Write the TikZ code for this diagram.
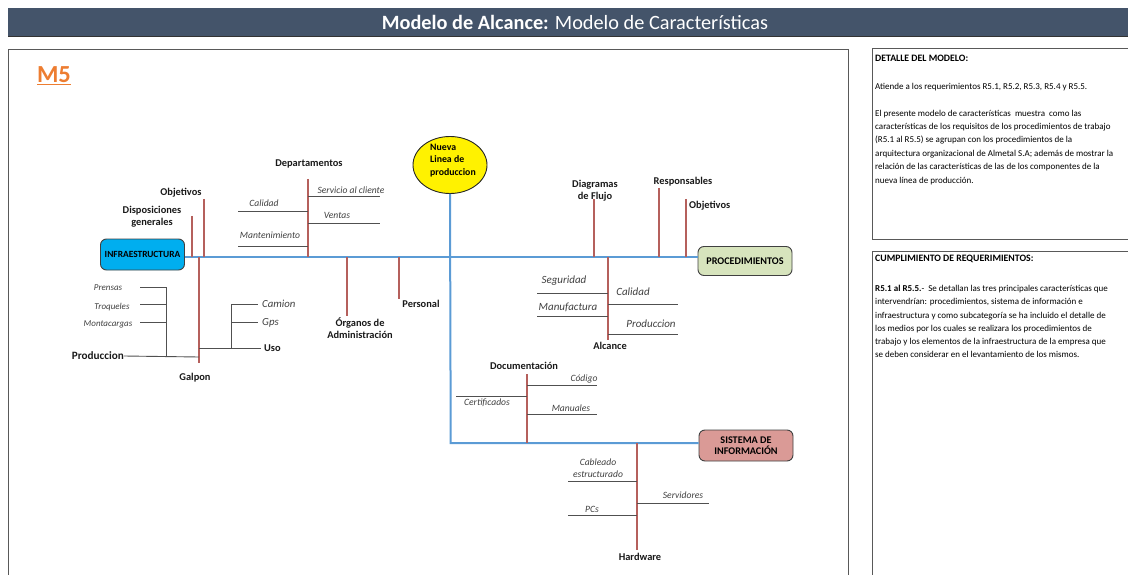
\documentclass[tikz,border=0pt]{standalone}
\usepackage{fontspec}
\setmainfont{Carlito}
\usetikzlibrary{shapes.geometric}
\definecolor{titlebg}{HTML}{44546A}
\definecolor{spine}{HTML}{5B9BD5}
\definecolor{brred}{HTML}{B5605C}
\definecolor{subgray}{HTML}{505050}
\definecolor{infrafill}{HTML}{00AEEF}
\definecolor{procfill}{HTML}{D7E4BD}
\definecolor{sisfill}{HTML}{DA9A96}
\definecolor{mfive}{HTML}{ED7D31}
\definecolor{ltext}{HTML}{404040}
\tikzset{
  blueline/.style={draw=spine, line width=2pt},
  branch/.style={draw=brred, line width=1.6pt},
  subl/.style={draw=subgray, line width=0.9pt},
  lblb/.style={font=\bfseries\fontsize{10.4}{12}\selectfont, text=black!90, align=center, inner sep=0pt},
  lbli/.style={font=\itshape\fontsize{9.6}{11.5}\selectfont, text=ltext, align=center, inner sep=0pt},
  rbox/.style={draw=black!75, line width=0.9pt, rounded corners=6pt, font=\bfseries\fontsize{10.2}{11.5}\selectfont, align=center, inner sep=1pt},
  ptext/.style={font=\fontsize{9}{10}\selectfont, anchor=base west, inner sep=0pt},
  phead/.style={font=\bfseries\fontsize{9.8}{10}\selectfont, anchor=base west, inner sep=0pt},
  frameline/.style={draw=black!65, line width=0.9pt}
}
\begin{document}
\begin{tikzpicture}[x=1pt,y=-1pt]
\useasboundingbox (0,0) rectangle (1128,575);
\clip (0,0) rectangle (1128,575);
% title bar
\fill[titlebg] (8,8) rectangle (1140,36);
\draw[black!80, line width=0.8pt] (8,36) -- (1140,36);
\node[text=white, font=\fontsize{20.3}{22}\selectfont, inner sep=0pt] (title) at (575,22) {\textbf{Modelo de Alcance:} Modelo de Características};
% frames
\draw[frameline] (8,600) -- (8,49) -- (848,49) -- (848,600);
\draw[frameline] (872,48) rectangle (1140,239);
\draw[frameline] (872,251) rectangle (1140,600);
% M5
\node[text=mfive, font=\bfseries\fontsize{24.5}{26}\selectfont, inner sep=0pt] (m5) at (54,76) {\underline{M5}};
% panel 1 text
\node[phead] (d0) at (875,62) {DETALLE DEL MODELO:};
\node[ptext] (d1) at (875,90) {Atiende a los requerimientos R5.1, R5.2, R5.3, R5.4 y R5.5.};
\node[ptext] (d2) at (875,117) {El presente modelo de características\ \ muestra\ \ como las};
\node[ptext] (d3) at (875,130) {características de los requisitos de los procedimientos de trabajo};
\node[ptext] (d4) at (875,143) {(R5.1 al R5.5) se agrupan con los procedimientos de la};
\node[ptext] (d5) at (875,157) {arquitectura organizacional de Almetal S.A; además de mostrar la};
\node[ptext] (d6) at (875,170) {relación de las características de las de los componentes de la};
\node[ptext] (d7) at (875,183) {nueva línea de producción.};
% panel 2 text
\node[phead] (c0) at (875,261) {CUMPLIMIENTO DE REQUERIMIENTOS:};
\node[ptext] (c1) at (875,291) {\textbf{R5.1 al R5.5.}-\ \ Se detallan las tres principales características que};
\node[ptext] (c2) at (875,304) {intervendrían: procedimientos, sistema de información e};
\node[ptext] (c3) at (875,318) {infraestructura y como subcategoría se ha incluido el detalle de};
\node[ptext] (c4) at (875,331) {los medios por los cuales se realizara los procedimientos de};
\node[ptext] (c5) at (875,344) {trabajo y los elementos de la infraestructura de la empresa que};
\node[ptext] (c6) at (875,357) {se deben considerar en el levantamiento de los mismos.};

% main nodes
\node[rbox, fill=infrafill, minimum width=84pt, minimum height=31pt, font=\bfseries\fontsize{9.4}{11}\selectfont] (infra) at (142.5,254.5) {INFRAESTRUCTURA};
\node[rbox, fill=procfill, minimum width=94pt, minimum height=29pt] (proc) at (745,261) {PROCEDIMIENTOS};
\node[rbox, fill=sisfill, minimum width=94pt, minimum height=31pt] (sis) at (746,445.5) {SISTEMA DE\\INFORMACIÓN};
\node[ellipse, draw=black!85, line width=0.9pt, fill=yellow, minimum width=74pt, minimum height=57pt, inner sep=0pt] (nl) at (450,165) {};
\node[font=\bfseries\fontsize{9.8}{12.3}\selectfont, align=left, inner sep=0pt, anchor=north west] (nltext) at (430,144) {Nueva\\Linea de\\produccion};

% spine
\coordinate (sp) at (0,257);
\coordinate (corner) at (450.7,443);
\draw[blueline] (infra.east |- sp) -- (proc.west |- sp);
\draw[blueline] (nl.south) -- (corner) -- (sis.west |- corner);

% ---------- left, above spine
\coordinate (dispT) at (192,216); \coordinate (dispB) at (192,257);
\draw[branch] (dispT) -- (dispB);
\node[lblb] (disp) at (152,217) {Disposiciones\\generales};
\coordinate (obj1T) at (204,199); \coordinate (obj1B) at (204,257);
\draw[branch] (obj1T) -- (obj1B);
\node[lblb] (obj1) at (181,193) {Objetivos};
\coordinate (depT) at (308,179); \coordinate (depB) at (308,257);
\draw[branch] (depT) -- (depB);
\node[lblb] (dep) at (309,164) {Departamentos};
\coordinate (servA) at (308,196); \coordinate (servB) at (380,196);
\draw[subl] (servA) -- (servB);
\node[lbli] (serv) at (351,190) {Servicio al cliente};
\coordinate (venA) at (308,223); \coordinate (venB) at (380,223);
\draw[subl] (venA) -- (venB);
\node[lbli] (ven) at (337,215) {Ventas};
\coordinate (calA) at (238,211); \coordinate (calB) at (308,211);
\draw[subl] (calA) -- (calB);
\node[lbli] (cal) at (264,203) {Calidad};
\coordinate (manA) at (238,246); \coordinate (manB) at (308,246);
\draw[subl] (manA) -- (manB);
\node[lbli] (mant) at (270,235) {Mantenimiento};

% ---------- left, below spine
\coordinate (orgT) at (347,257); \coordinate (orgB) at (347,316);
\draw[branch] (orgT) -- (orgB);
\node[lblb] (org) at (360,328) {Órganos de\\Administración};
\coordinate (perT) at (399,257); \coordinate (perB) at (399,299);
\draw[branch] (perT) -- (perB);
\node[lblb] (per) at (421,304) {Personal};
\coordinate (galT) at (199,257); \coordinate (galB) at (199,363);
\draw[branch] (galT) -- (galB);
\node[lblb] (gal) at (195,378) {Galpon};
\node[lblb, font=\bfseries\fontsize{11.2}{12}\selectfont, anchor=east] (prod) at (124,356) {Produccion};
\coordinate (prodB) at (199,357);
\draw[subl] (prod.east) -- (prodB);
\coordinate (pvT) at (166,287); \coordinate (pvB) at (166,357);
\draw[subl] (pvT) -- (pvB);
\coordinate (preA) at (140,287);
\draw[subl] (preA) -- (pvT);
\node[lbli, font=\itshape\fontsize{9}{10}\selectfont] (pre) at (108,288) {Prensas};
\coordinate (troA) at (140,304); \coordinate (troB) at (166,304);
\draw[subl] (troA) -- (troB);
\node[lbli, font=\itshape\fontsize{9}{10}\selectfont] (tro) at (112,307) {Troqueles};
\coordinate (monA) at (140,322); \coordinate (monB) at (166,322);
\draw[subl] (monA) -- (monB);
\node[lbli, font=\itshape\fontsize{9}{10}\selectfont] (mon) at (108,324) {Montacargas};
\coordinate (usoA) at (199,348);
\node[lblb, anchor=west] (uso) at (264,348) {Uso};
\draw[subl] (usoA) -- ([xshift=-3pt]uso.west);
\coordinate (uvT) at (231,304); \coordinate (uvB) at (231,348);
\draw[subl] (uvT) -- (uvB);
\node[lbli, font=\itshape\fontsize{10.8}{12}\selectfont, anchor=west] (cam) at (262,304) {Camion};
\draw[subl] (uvT) -- ([xshift=-4pt]cam.west);
\node[lbli, font=\itshape\fontsize{10.8}{12}\selectfont, anchor=west] (gps) at (262,323) {Gps};
\coordinate (gpsA) at (231,322);
\draw[subl] (gpsA) -- ([xshift=-4pt]gps.west |- gpsA);

% ---------- right, above spine
\coordinate (diaT) at (594,199); \coordinate (diaB) at (594,257);
\draw[branch] (diaT) -- (diaB);
\node[lblb] (dia) at (595,191) {Diagramas\\de Flujo};
\coordinate (resT) at (659,188); \coordinate (resB) at (659,257);
\draw[branch] (resT) -- (resB);
\node[lblb] (res) at (683,182) {Responsables};
\coordinate (obj2T) at (686,199); \coordinate (obj2B) at (686,257);
\draw[branch] (obj2T) -- (obj2B);
\node[lblb, anchor=west] (obj2) at (689,206) {Objetivos};

% ---------- right, below spine
\coordinate (alcT) at (608,257); \coordinate (alcB) at (608,340);
\draw[branch] (alcT) -- (alcB);
\node[lblb] (alc) at (610,346) {Alcance};
\coordinate (segA) at (537,293); \coordinate (segB) at (608,293);
\draw[subl] (segA) -- (segB);
\node[lbli, font=\itshape\fontsize{11}{12}\selectfont] (seg) at (564,281) {Seguridad};
\coordinate (mfA) at (537,316); \coordinate (mfB) at (608,316);
\draw[subl] (mfA) -- (mfB);
\node[lbli, font=\itshape\fontsize{11}{12}\selectfont] (mf) at (568,307) {Manufactura};
\coordinate (c2A) at (608,304); \coordinate (c2B) at (678,304);
\draw[subl] (c2A) -- (c2B);
\node[lbli, font=\itshape\fontsize{11}{12}\selectfont] (cal2) at (633,292) {Calidad};
\coordinate (p2A) at (608,334); \coordinate (p2B) at (678,334);
\draw[subl] (p2A) -- (p2B);
\node[lbli, font=\itshape\fontsize{11}{12}\selectfont] (prod2) at (651,324) {Produccion};

% documentacion
\coordinate (docT) at (527,374); \coordinate (docB) at (527,443);
\draw[branch] (docT) -- (docB);
\node[lblb] (doc) at (524,366) {Documentación};
\coordinate (codA) at (527,385); \coordinate (codB) at (597,385);
\draw[subl] (codA) -- (codB);
\node[lbli] (cod) at (584,379) {Código};
\coordinate (mnA) at (527,414); \coordinate (mnB) at (597,414);
\draw[subl] (mnA) -- (mnB);
\node[lbli] (mn) at (571,408) {Manuales};
\coordinate (ceA) at (456,396); \coordinate (ceB) at (527,396);
\draw[subl] (ceA) -- (ceB);
\node[lbli] (ce) at (487,403) {Certificados};

% hardware
\coordinate (hwT) at (637,443); \coordinate (hwB) at (637,550);
\draw[branch] (hwT) -- (hwB);
\node[lblb] (hw) at (640,557) {Hardware};
\coordinate (cbA) at (568,481); \coordinate (cbB) at (637,481);
\draw[subl] (cbA) -- (cbB);
\node[lbli] (cb) at (598,468) {Cableado\\estructurado};
\coordinate (pcA) at (568,515); \coordinate (pcB) at (637,515);
\draw[subl] (pcA) -- (pcB);
\node[lbli] (pc) at (592,509) {PCs};
\coordinate (svA) at (637,503); \coordinate (svB) at (709,503);
\draw[subl] (svA) -- (svB);
\node[lbli] (sv) at (683,495) {Servidores};
\end{tikzpicture}
\end{document}
